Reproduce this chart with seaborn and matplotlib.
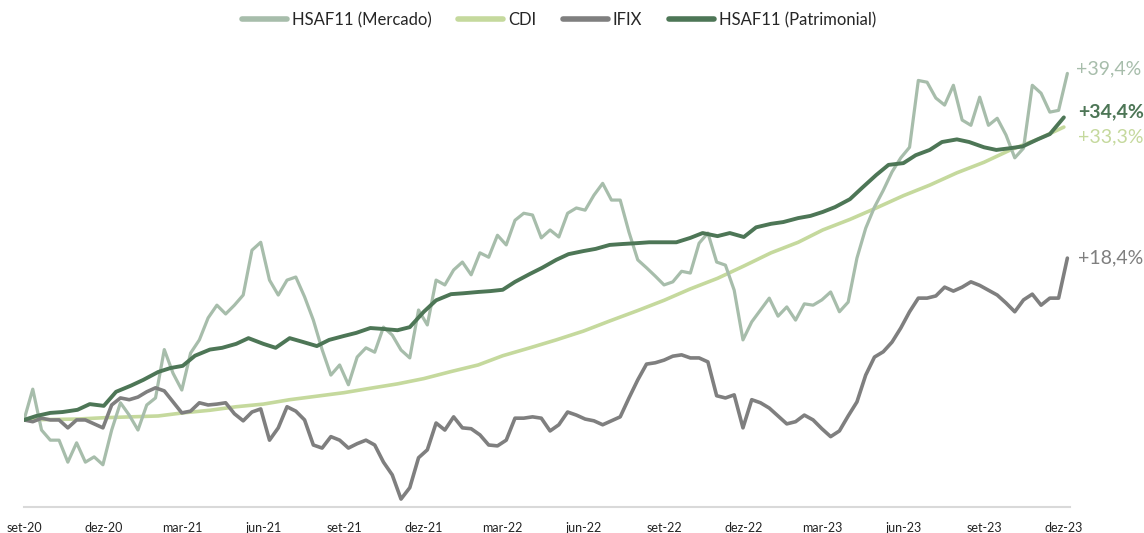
import numpy as np
import pandas as pd
import matplotlib
matplotlib.use("Agg")
import matplotlib.pyplot as plt
import seaborn as sns

sns.set_style("white")
plt.rcParams['font.family'] = ['Lato', 'DejaVu Sans']

# x categories
cdi_dates = pd.date_range('2020-09-01', '2023-12-01', freq='MS')
pat_dates = pd.date_range('2020-09-01', '2023-12-01', freq='SMS')
grid_dates = pd.date_range('2020-09-01', periods=120, freq='10D')

tick_dates = pd.date_range('2020-09-01', '2023-12-01', freq='3MS')
tick_labels = ['set-20', 'dez-20', 'mar-21', 'jun-21', 'set-21', 'dez-21', 'mar-22',
               'jun-22', 'set-22', 'dez-22', 'mar-23', 'jun-23', 'set-23', 'dez-23']

# accumulated return (%)
cdi = [0.0, 0.05, 0.1, 0.25, 0.35, 0.45, 0.8, 1.1, 1.5, 1.8, 2.3, 2.7, 3.1, 3.6,
       4.1, 4.7, 5.5, 6.25, 7.3, 8.2, 9.1, 10.1, 11.25, 12.4, 13.6, 14.9, 16.1,
       17.5, 19.0, 20.2, 21.6, 22.8, 24.1, 25.5, 26.7, 28.1, 29.3, 30.7, 31.9, 33.3]

patrimonial = [0.0, 0.45, 0.8, 0.9, 1.15, 1.8, 1.6, 3.2,
               3.9, 4.55, 5.45, 5.9, 6.15, 7.3, 8.0, 8.2, 8.65, 9.3, 8.65, 8.2,
               9.3, 8.9, 8.4, 9.1, 9.55, 9.9, 10.45, 10.35, 10.2, 10.55, 12.3, 13.6,
               14.3, 14.4, 14.55, 14.65, 14.8, 15.7, 16.6, 17.3, 18.2, 18.85, 19.2, 19.45,
               19.9, 20.0, 20.1, 20.2, 20.2, 20.2, 20.7, 21.25, 20.9, 21.25, 20.8, 21.9,
               22.3, 22.5, 22.95, 23.2, 23.65, 24.2, 25.1, 26.4, 27.85, 29.0, 29.2, 30.1,
               30.7, 31.6, 31.9, 31.6, 31.0, 30.7, 30.9, 31.1, 31.9, 32.5, 34.4]

ifix = [0.0, -0.2, 0.2, 0.0, 0.0, -0.9, 0.0, 0.0, -0.45, -0.9,
        1.7, 2.5, 2.3, 2.6, 3.2, 3.65, 3.3, 2.05, 0.8, 1.0,
        1.95, 1.7, 1.8, 1.95, 0.7, -0.1, 0.9, 1.25, -2.3, -0.9,
        1.5, 1.0, 0.0, -2.85, -3.2, -1.9, -2.3, -3.2, -2.7, -2.3,
        -2.85, -4.8, -6.25, -9.0, -7.7, -4.3, -3.4, -0.35, -1.15, 0.35,
        -0.9, -1.0, -1.7, -2.85, -2.95, -2.3, 0.2, 0.2, 0.35, 0.2,
        -1.25, -0.55, 0.9, 0.55, 0.1, -0.1, -0.55, -0.1, 0.35, 2.5,
        4.55, 6.35, 6.5, 6.8, 7.25, 7.4, 7.05, 7.05, 6.6, 2.75,
        2.5, 2.85, -0.9, 2.3, 1.95, 1.35, 0.45, -0.45, -0.2, 0.55,
        0.0, -1.0, -1.9, -1.25, 0.45, 2.05, 5.1, 7.15, 7.75, 8.85,
        10.45, 12.3, 13.85, 13.85, 14.1, 15.1, 14.65, 15.1, 15.7, 15.3,
        14.75, 14.2, 13.3, 12.3, 13.65, 14.3, 13.05, 13.85, 13.85, 18.4]

mercado = [0.0, 3.5, -1.15, -2.3, -2.3, -4.8, -2.6, -4.8, -4.2, -5.1,
           -1.15, 1.95, 0.55, -1.15, 1.7, 2.5, 8.0, 5.3, 3.4, 7.6,
           9.1, 11.6, 13.05, 12.05, 13.05, 14.2, 19.3, 20.2, 15.9, 14.2,
           15.9, 16.25, 14.0, 11.35, 8.0, 5.1, 6.25, 4.0, 7.15, 8.2,
           7.7, 10.55, 9.65, 7.95, 7.05, 12.5, 10.8, 15.9, 15.35, 17.05,
           17.95, 16.5, 19.0, 18.5, 21.0, 19.9, 22.7, 23.5, 23.3, 20.7,
           21.6, 20.8, 23.5, 24.1, 23.85, 25.55, 26.9, 25.0, 25.0, 21.35,
           18.2, 17.3, 16.35, 15.35, 15.7, 16.9, 16.7, 20.1, 21.25, 17.95,
           17.6, 14.75, 9.1, 11.15, 12.5, 13.85, 11.8, 12.85, 11.35, 13.2,
           13.05, 13.65, 14.55, 12.3, 13.4, 18.4, 21.8, 24.2, 26.1, 28.2,
           29.8, 31.0, 38.6, 38.4, 36.6, 35.8, 38.05, 34.1, 33.5, 36.7,
           33.5, 34.3, 32.4, 29.8, 30.9, 38.05, 37.15, 35.0, 35.2, 39.4]

c_merc = "#a7bdab"
c_cdi = "#c5d99d"
c_ifix = "#7f7f7f"
c_pat = "#4d7656"

df_cdi = pd.DataFrame({'date': cdi_dates, 'ret': cdi})
df_pat = pd.DataFrame({'date': pat_dates, 'ret': patrimonial})
df_ifix = pd.DataFrame({'date': grid_dates, 'ret': ifix})
df_merc = pd.DataFrame({'date': grid_dates, 'ret': mercado})

fig = plt.figure(figsize=(11.44, 5.33), dpi=100)
ax = fig.add_axes([24/1144, 1 - 507/533, (1070 - 24)/1144, (507 - 40)/533])

sns.lineplot(data=df_cdi, x='date', y='ret', color=c_cdi, lw=2.6, ax=ax, label='CDI', zorder=2)
sns.lineplot(data=df_merc, x='date', y='ret', color=c_merc, lw=2.3, ax=ax, label='HSAF11 (Mercado)', zorder=3)
sns.lineplot(data=df_ifix, x='date', y='ret', color=c_ifix, lw=2.6, ax=ax, label='IFIX', zorder=4)
sns.lineplot(data=df_pat, x='date', y='ret', color=c_pat, lw=2.8, ax=ax, label='HSAF11 (Patrimonial)', zorder=5)

ax.set_xlim(pd.Timestamp('2020-09-01'), pd.Timestamp('2023-12-08'))
ax.set_ylim(-9.9, 43.2)
ax.set_xlabel('')
ax.set_ylabel('')
ax.set_yticks([])
ax.set_xticks(tick_dates)
ax.set_xticklabels(tick_labels)
ax.tick_params(axis='x', length=5, width=1, color='#d9d9d9', labelsize=9, pad=6, labelcolor='#222222')
for s in ['top', 'right', 'left']:
    ax.spines[s].set_visible(False)
ax.spines['bottom'].set_color('#d9d9d9')
ax.spines['bottom'].set_linewidth(1.5)

# legend in the chart's order
handles, labels = ax.get_legend_handles_labels()
order = ['HSAF11 (Mercado)', 'CDI', 'IFIX', 'HSAF11 (Patrimonial)']
h = [handles[labels.index(o)] for o in order]
ax.legend_.remove()
leg = fig.legend(h, order, loc='center', bbox_to_anchor=(559/1144, 1 - 20/533), ncol=4,
                 frameon=False, fontsize=12, handlelength=2.7, columnspacing=1.6, handletextpad=0.3)
for line in leg.get_lines():
    line.set_linewidth(4)

# end labels
ax.annotate('+39,4%', xy=(grid_dates[-1], mercado[-1]), xytext=(6, 3.5), textcoords='offset points',
            color=c_merc, fontsize=14, va='center', ha='left', annotation_clip=False)
ax.annotate('+34,4%', xy=(pat_dates[-1], patrimonial[-1]), xytext=(10, 4), textcoords='offset points',
            color=c_pat, fontsize=14, fontweight='bold', va='center', ha='left', annotation_clip=False)
ax.annotate('+33,3%', xy=(cdi_dates[-1], cdi[-1]), xytext=(10, -7), textcoords='offset points',
            color=c_cdi, fontsize=14, va='center', ha='left', annotation_clip=False)
ax.annotate('+18,4%', xy=(grid_dates[-1], ifix[-1]), xytext=(8, 0), textcoords='offset points',
            color=c_ifix, fontsize=14, va='center', ha='left', annotation_clip=False)

fig.savefig('out.png', dpi=100)
